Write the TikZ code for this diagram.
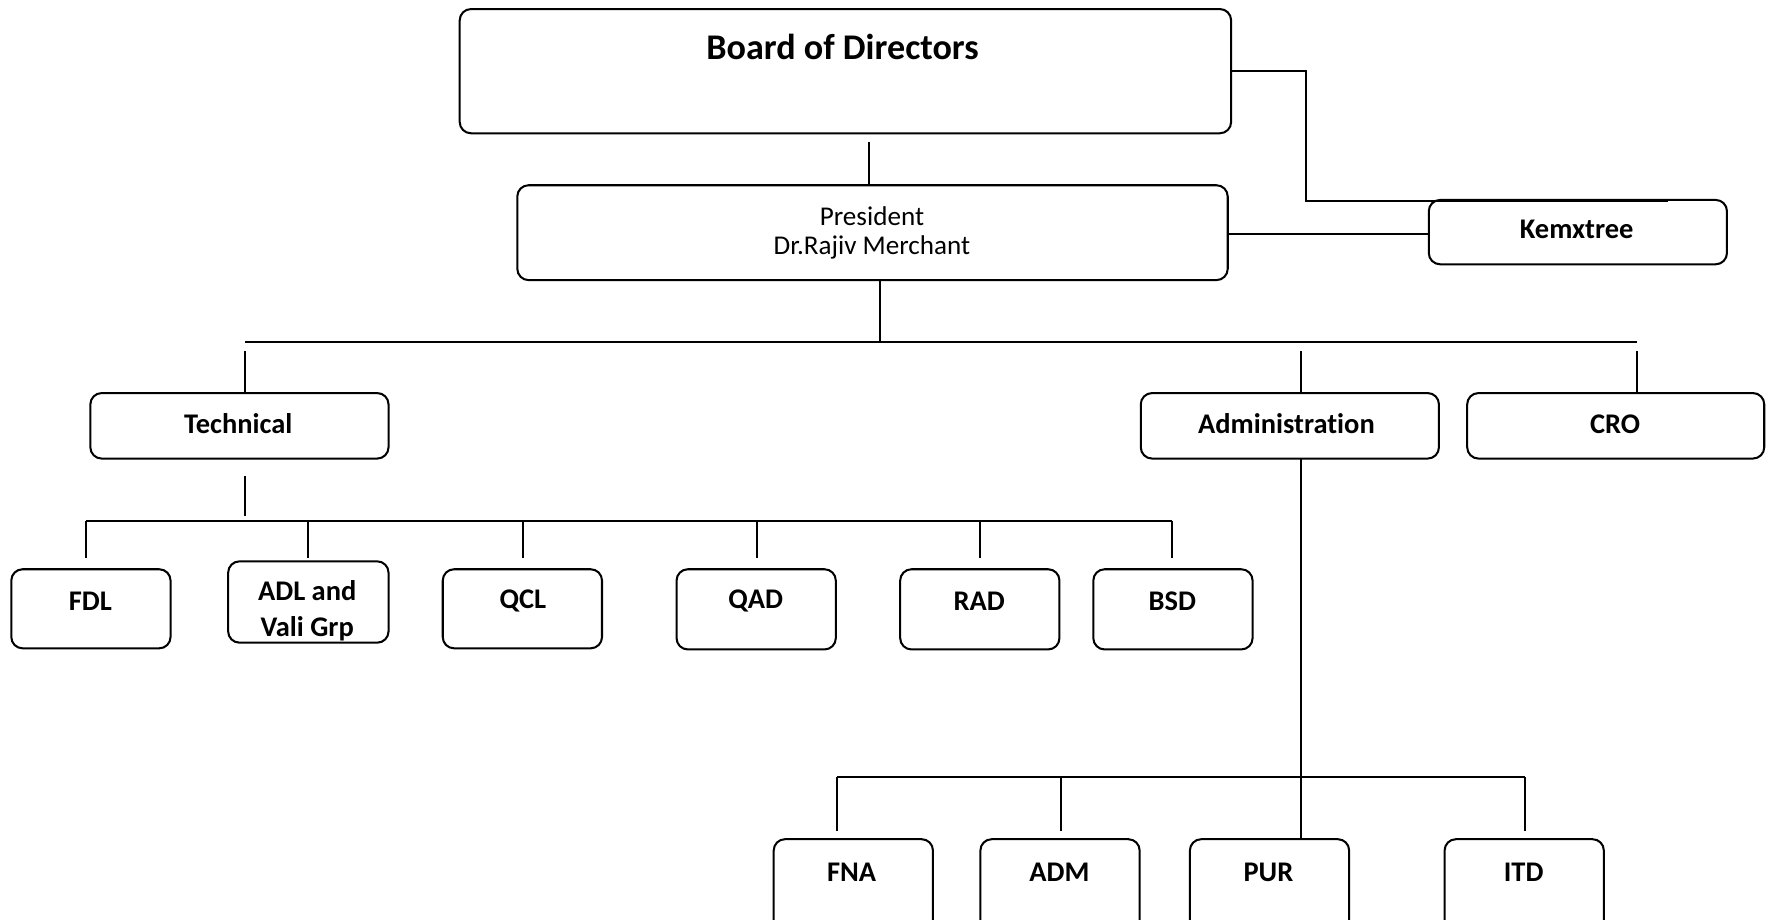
\documentclass[tikz,border=0pt]{standalone}
\usepackage{fontspec}
\setmainfont{Carlito}[Ligatures=NoCommon]
\begin{document}
\begin{tikzpicture}[x=0.5pt,y=-0.5pt,
  box/.style={draw, line width=0.9pt, rounded corners=5pt, inner sep=0pt, outer sep=0pt},
  smallbox/.style={box, minimum width=70.5pt, minimum height=35pt},
  midbox/.style={box, minimum width=132pt, minimum height=29pt},
  lbl/.style={font=\fontsize{12.6}{16}\selectfont\bfseries, inner sep=0pt, align=center},
  plain/.style={font=\fontsize{12}{14}\selectfont, inner sep=0pt},
  conn/.style={line width=0.9pt}]
\useasboundingbox (0,0) rectangle (1568,814);
\clip (0,0) rectangle (1568,814);
% top
\node[box, minimum width=341.5pt, minimum height=55pt] (board) at (748.5,63) {};
\node[font=\fontsize{16}{19}\selectfont\bfseries, inner sep=0pt] (boardt) at (746,42) {Board of Directors};
\node[box, minimum width=314.5pt, minimum height=42pt] (pres) at (772.5,206) {};
\node[plain] (prest1) at (772,191) {President};
\node[plain] (prest2) at (772,219) {Dr.Rajiv Merchant};
\node[midbox, minimum height=28.5pt] (kemx) at (1397,205.5) {};
\node[lbl] (kemxt) at (1396,203) {Kemxtree};
% second level
\node[midbox] (tech) at (212,377) {};
\node[lbl] (techt) at (211,375) {Technical};
\node[midbox] (adm) at (1142,377) {};
\node[lbl] (admt) at (1139,375) {Administration};
\node[midbox, minimum width=131.5pt] (cro) at (1430.5,377) {};
\node[lbl] (crot) at (1430,376) {CRO};
% technical children
\node[smallbox] (fdl) at (80.5,539) {};
\node[lbl] (fdlt) at (80,532) {FDL};
\node[smallbox, minimum width=71pt, minimum height=36pt] (adl) at (273,533) {};
\node[lbl] (adlt) at (272,541) {ADL and\\Vali Grp};
\node[smallbox] (qcl) at (462.5,539) {};
\node[lbl] (qclt) at (463,532) {QCL};
\node[smallbox, minimum height=35.5pt] (qad) at (669.5,539.5) {};
\node[lbl] (qadt) at (669,532) {QAD};
\node[smallbox, minimum height=35.5pt] (rad) at (867.5,539.5) {};
\node[lbl] (radt) at (867,532) {RAD};
\node[smallbox, minimum height=35.5pt] (bsd) at (1038.5,539.5) {};
\node[lbl] (bsdt) at (1038,532) {BSD};
% administration children
\node[smallbox, minimum height=42pt] (fna) at (755.5,785) {};
\node[lbl] (fnat) at (754,772) {FNA};
\node[smallbox, minimum height=42pt] (admn) at (938.5,785) {};
\node[lbl] (admnt) at (938,772) {ADM};
\node[smallbox, minimum height=42pt] (pur) at (1124,785) {};
\node[lbl] (purt) at (1123,772) {PUR};
\node[smallbox, minimum height=42pt] (itd) at (1349.5,785) {};
\node[lbl] (itdt) at (1349,772) {ITD};
% connectors top
\coordinate (bd) at (769,126);
\draw[conn] (bd) -- (bd |- pres.north);
\coordinate (kc) at (1156,178);
\coordinate (ke) at (1477,178);
\draw[conn] (board.east) -| (kc) -- (ke);
\draw[conn] ([yshift=-0.5pt]pres.east) -- ([yshift=-0.5pt]pres.east -| kemx.west);
% level 1 bus
\coordinate (pb) at (779,303);
\draw[conn] (pb |- pres.south) -- (pb);
\coordinate (b1l) at (217,303);
\coordinate (b1a) at (1152,303);
\coordinate (b1r) at (1449,303);
\draw[conn] (b1l) -- (b1r);
\draw[conn] ([yshift=-4pt]b1l) -- (b1l |- tech.north);
\draw[conn] ([yshift=-4pt]b1a) -- (b1a |- adm.north);
\draw[conn] ([yshift=-4pt]b1r) -- (b1r |- cro.north);
% technical bus
\coordinate (td1) at (217,421);
\coordinate (td2) at (217,457);
\draw[conn] (td1) -- (td2);
\coordinate (b2l) at (76,461);
\coordinate (b2r) at (1038,461);
\draw[conn] (b2l) -- (b2r);
\foreach \n/\x in {fdl/76, adl/273, qcl/463, qad/670, rad/868, bsd/1038} {
  \coordinate (\n-top) at (\x,461);
  \draw[conn] (\n-top) -- ++(0,33);
}
% administration bus
\draw[conn] (adm.south -| b1a) -- (b1a |- pur.north);
\coordinate (b3l) at (741,688);
\coordinate (b3r) at (1350,688);
\draw[conn] (b3l) -- (b3r);
\foreach \n/\x in {fna/741, admn/939, itd/1350} {
  \coordinate (\n-top) at (\x,688);
  \draw[conn] (\n-top) -- ++(0,48);
}
\end{tikzpicture}
\end{document}
